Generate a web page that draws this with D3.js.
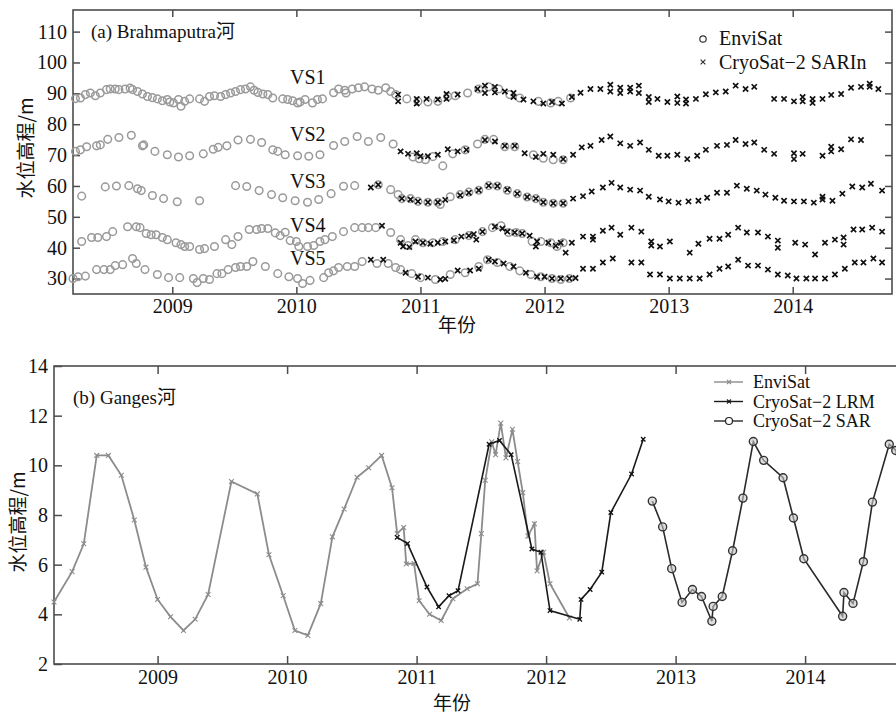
<!DOCTYPE html>
<html><head><meta charset="utf-8">
<script src="https://cdn.jsdelivr.net/npm/d3@7"></script>
<style>
body{margin:0;background:#fff;}
svg{display:block;}
text{font-family:"Liberation Serif","Times New Roman","Noto Sans CJK SC",serif;fill:#111;}
.cjk{font-family:"Noto Sans CJK SC",sans-serif;}
</style></head>
<body><svg id="c" width="896" height="714"></svg>
<script>
// ---------- DATA ----------
const years = [2009, 2010, 2011, 2012, 2013, 2014];
const ticksA = [30, 40, 50, 60, 70, 80, 90, 100, 110];
const ticksB = [2, 4, 6, 8, 10, 12, 14];
const stationNames = ["VS1", "VS2", "VS3", "VS4", "VS5"];
const legendA = ["EnviSat", "CryoSat\u22122 SARIn"];
const legendB = ["EnviSat", "CryoSat\u22122 LRM", "CryoSat\u22122 SAR"];

const vs1Envi = [[2008.22,88.3],[2008.26,88.5],[2008.3,89.6],[2008.34,90.1],[2008.38,89.2],[2008.42,90.1],[2008.47,91.2],[2008.5,91.4],[2008.54,91.4],[2008.57,91.2],[2008.62,91.4],[2008.66,91.7],[2008.68,91.2],[2008.72,90.6],[2008.76,89.8],[2008.8,89.0],[2008.84,88.6],[2008.88,88.2],[2008.92,87.6],[2008.96,88.0],[2008.98,87.2],[2009.01,86.9],[2009.05,88.0],[2009.07,85.8],[2009.1,87.4],[2009.14,88.2],[2009.22,88.2],[2009.26,87.4],[2009.3,89.0],[2009.34,89.2],[2009.39,89.0],[2009.43,89.6],[2009.47,90.1],[2009.51,90.6],[2009.55,91.2],[2009.59,91.4],[2009.63,92.1],[2009.66,91.0],[2009.69,90.3],[2009.73,89.8],[2009.77,89.6],[2009.81,88.5],[2009.89,88.2],[2009.93,88.0],[2009.97,87.6],[2010.01,86.9],[2010.03,87.2],[2010.07,88.0],[2010.13,86.9],[2010.17,88.0],[2010.21,88.2],[2010.3,90.2],[2010.34,91.4],[2010.39,91.0],[2010.4,90.1],[2010.45,91.4],[2010.5,91.8],[2010.55,92.1],[2010.61,91.4],[2010.66,91.0],[2010.72,91.8],[2010.76,90.6],[2010.8,89.6],[2010.89,88.2],[2010.98,87.4],[2011.06,87.2],[2011.14,87.4],[2011.22,89.0],[2011.28,89.2],[2011.38,90.1],[2011.47,91.4],[2011.55,92.1],[2011.63,91.4],[2011.72,89.6],[2011.8,88.5],[2011.95,87.4],[2012.05,86.9],[2012.11,87.4],[2012.21,88.5]];
const vs1Cryo = [[2010.82,89.6],[2010.82,87.4],[2010.97,88.2],[2010.97,86.7],[2011.05,88.2],[2011.14,88.0],[2011.21,88.2],[2011.21,89.8],[2011.3,89.6],[2011.46,91.4],[2011.52,92.5],[2011.52,90.1],[2011.6,92.1],[2011.6,90.3],[2011.68,90.6],[2011.75,90.1],[2011.75,88.8],[2011.83,88.0],[2011.91,87.4],[2011.99,86.7],[2012.06,87.2],[2012.14,86.7],[2012.22,88.8],[2012.29,90.2],[2012.37,91.4],[2012.45,91.4],[2012.53,92.8],[2012.53,90.6],[2012.61,91.8],[2012.61,90.1],[2012.69,91.8],[2012.69,90.6],[2012.76,92.5],[2012.76,90.1],[2012.84,88.8],[2012.84,87.2],[2012.91,88.2],[2012.99,87.2],[2013.07,89.0],[2013.07,86.9],[2013.14,88.0],[2013.14,86.7],[2013.22,88.2],[2013.3,89.7],[2013.38,90.3],[2013.46,90.6],[2013.54,92.5],[2013.62,91.4],[2013.69,92.1],[2013.85,88.2],[2013.93,88.2],[2014.01,87.4],[2014.08,88.8],[2014.08,87.4],[2014.16,88.2],[2014.16,86.9],[2014.24,88.2],[2014.31,89.5],[2014.39,89.8],[2014.47,91.8],[2014.55,92.1],[2014.62,93.1],[2014.62,92.1],[2014.69,91.4]];

const vs2Envi = [[2008.22,71.2],[2008.26,71.7],[2008.31,72.7],[2008.39,73.0],[2008.42,73.3],[2008.48,75.1],[2008.57,75.7],[2008.67,76.4],[2008.76,73.0],[2008.77,73.3],[2008.86,71.2],[2008.96,70.1],[2009.05,69.4],[2009.14,69.8],[2009.25,70.4],[2009.33,71.9],[2009.37,72.5],[2009.44,73.0],[2009.53,74.9],[2009.63,75.1],[2009.72,74.1],[2009.81,71.7],[2009.85,71.2],[2009.91,70.1],[2010.01,69.8],[2010.1,69.6],[2010.19,70.1],[2010.3,73.1],[2010.39,74.4],[2010.49,76.0],[2010.58,74.4],[2010.68,75.7],[2010.78,73.6],[2010.94,69.4],[2010.99,68.8],[2011.04,68.5],[2011.1,69.5],[2011.18,66.5],[2011.26,70.4],[2011.36,71.7],[2011.46,73.6],[2011.52,75.1],[2011.59,75.1],[2011.68,72.7],[2011.76,72.7],[2011.91,70.1],[2011.99,69.0],[2012.07,68.5],[2012.15,68.5]];
const vs2Cryo = [[2010.84,71.2],[2010.9,70.4],[2010.97,70.6],[2011.0,69.6],[2011.06,69.6],[2011.14,70.1],[2011.22,71.9],[2011.3,71.2],[2011.37,71.7],[2011.52,74.9],[2011.6,74.4],[2011.68,73.0],[2011.76,73.0],[2011.84,70.6],[2011.93,69.4],[2011.99,70.4],[2012.07,70.1],[2012.15,68.7],[2012.23,70.1],[2012.3,72.5],[2012.37,73.0],[2012.46,74.9],[2012.53,76.0],[2012.61,73.8],[2012.69,73.0],[2012.77,74.1],[2012.84,71.7],[2012.92,69.8],[2012.99,69.8],[2013.07,70.1],[2013.15,68.7],[2013.23,69.8],[2013.3,71.7],[2013.39,73.0],[2013.47,73.3],[2013.54,74.9],[2013.62,73.6],[2013.69,74.1],[2013.77,71.7],[2013.85,70.4],[2014.01,70.6],[2014.01,68.7],[2014.08,70.4],[2014.24,69.8],[2014.31,71.2],[2014.31,72.7],[2014.39,71.9],[2014.47,75.1],[2014.55,74.9]];

const vs3Envi = [[2008.27,56.7],[2008.46,59.7],[2008.55,60.0],[2008.65,60.1],[2008.72,59.1],[2008.75,58.5],[2008.84,56.9],[2008.93,55.9],[2009.04,54.9],[2009.22,55.2],[2009.51,60.1],[2009.6,59.8],[2009.7,58.5],[2009.8,57.2],[2009.89,56.2],[2009.99,55.2],[2010.09,54.7],[2010.18,55.6],[2010.28,57.5],[2010.38,59.9],[2010.47,60.1],[2010.66,60.4],[2010.76,58.8],[2010.82,57.2],[2010.85,55.9],[2010.92,55.9],[2010.98,55.0],[2011.06,54.7],[2011.14,54.7],[2011.16,54.0],[2011.24,56.5],[2011.32,57.2],[2011.39,58.0],[2011.47,58.6],[2011.55,60.1],[2011.62,60.0],[2011.7,58.6],[2011.78,57.5],[2011.86,56.4],[2011.93,55.9],[2011.99,54.7],[2012.07,54.4],[2012.15,54.4]];
const vs3Cryo = [[2010.6,59.5],[2010.66,60.4],[2010.85,55.9],[2010.92,55.6],[2010.98,55.0],[2011.06,54.7],[2011.14,54.7],[2011.2,55.5],[2011.32,57.0],[2011.39,57.8],[2011.47,58.6],[2011.55,60.1],[2011.62,60.0],[2011.7,58.8],[2011.78,57.5],[2011.86,56.4],[2011.93,55.9],[2011.99,54.7],[2012.07,54.4],[2012.15,54.4],[2012.23,55.9],[2012.31,56.7],[2012.38,58.2],[2012.47,59.5],[2012.54,61.0],[2012.61,59.5],[2012.69,58.8],[2012.77,58.5],[2012.84,56.5],[2012.93,55.6],[2013.0,55.0],[2013.08,54.6],[2013.16,55.0],[2013.24,55.2],[2013.31,56.2],[2013.39,57.8],[2013.47,57.8],[2013.55,60.1],[2013.63,59.1],[2013.71,58.5],[2013.78,57.2],[2013.86,56.2],[2013.93,55.2],[2014.01,55.0],[2014.09,55.0],[2014.17,54.6],[2014.24,56.5],[2014.24,55.6],[2014.32,55.2],[2014.4,57.5],[2014.48,59.8],[2014.56,59.5],[2014.63,60.7],[2014.72,58.5]];

const vs4Envi = [[2008.27,42.0],[2008.35,43.3],[2008.4,43.3],[2008.47,43.6],[2008.52,45.2],[2008.64,46.8],[2008.71,46.8],[2008.74,46.5],[2008.79,44.6],[2008.83,44.2],[2008.87,44.2],[2008.92,43.3],[2008.96,42.6],[2009.03,41.6],[2009.07,41.0],[2009.1,40.4],[2009.14,40.4],[2009.22,39.4],[2009.26,39.7],[2009.34,40.4],[2009.43,42.6],[2009.48,41.0],[2009.53,43.6],[2009.62,45.9],[2009.68,45.9],[2009.72,46.2],[2009.77,46.2],[2009.83,44.8],[2009.87,43.9],[2009.91,45.0],[2009.95,42.3],[2010.0,42.0],[2010.02,40.4],[2010.09,40.4],[2010.14,40.7],[2010.19,42.0],[2010.23,42.6],[2010.29,43.6],[2010.38,45.2],[2010.47,46.5],[2010.53,46.5],[2010.58,46.5],[2010.64,46.5],[2010.76,44.9],[2010.84,42.6],[2010.9,40.7],[2010.96,42.6],[2011.02,41.6],[2011.1,41.6],[2011.18,42.0],[2011.28,42.6],[2011.39,43.9],[2011.5,45.2],[2011.58,46.5],[2011.65,47.1],[2011.71,44.9],[2011.77,44.9],[2011.82,44.6],[2011.9,42.0],[2011.97,42.0],[2012.05,41.6],[2012.1,40.4],[2012.15,41.6]];
const vs4Cryo = [[2010.69,47.1],[2010.84,41.6],[2010.86,40.4],[2010.91,40.2],[2010.96,42.0],[2011.02,41.6],[2011.08,41.3],[2011.14,41.6],[2011.2,42.0],[2011.27,42.4],[2011.33,43.6],[2011.39,43.9],[2011.43,44.4],[2011.45,42.6],[2011.5,45.2],[2011.6,46.8],[2011.66,46.2],[2011.7,45.2],[2011.76,44.9],[2011.82,44.6],[2011.88,43.9],[2011.93,40.4],[2011.94,42.0],[2012.03,41.6],[2012.09,40.6],[2012.13,41.6],[2012.17,38.4],[2012.22,41.6],[2012.31,43.6],[2012.39,42.6],[2012.39,43.6],[2012.47,45.5],[2012.54,46.5],[2012.61,44.2],[2012.7,46.5],[2012.78,45.2],[2012.86,42.0],[2012.86,40.7],[2012.93,40.4],[2013.01,42.0],[2013.17,38.4],[2013.24,41.3],[2013.33,42.9],[2013.41,42.9],[2013.48,44.2],[2013.56,46.5],[2013.63,44.9],[2013.72,44.9],[2013.8,43.6],[2013.88,42.3],[2013.88,40.0],[2014.02,41.6],[2014.1,41.0],[2014.18,37.8],[2014.26,41.6],[2014.34,42.6],[2014.41,43.3],[2014.41,41.0],[2014.49,45.9],[2014.56,45.9],[2014.64,46.5],[2014.72,45.2]];

const vs5Envi = [[2008.2,30.0],[2008.24,30.6],[2008.3,30.8],[2008.39,32.9],[2008.45,32.9],[2008.5,32.9],[2008.54,34.2],[2008.6,34.5],[2008.68,36.5],[2008.71,34.9],[2008.78,32.9],[2008.88,31.3],[2008.97,30.3],[2009.06,30.3],[2009.17,30.0],[2009.2,28.7],[2009.25,30.0],[2009.3,29.7],[2009.36,31.6],[2009.4,31.6],[2009.45,32.9],[2009.51,33.6],[2009.55,33.9],[2009.6,33.9],[2009.65,35.5],[2009.75,33.9],[2009.85,31.6],[2009.94,30.6],[2010.01,30.0],[2010.05,28.4],[2010.11,29.4],[2010.22,30.3],[2010.26,31.9],[2010.3,32.5],[2010.34,33.6],[2010.41,33.9],[2010.47,33.9],[2010.53,35.5],[2010.65,34.9],[2010.74,34.9],[2010.8,33.6],[2010.84,32.9],[2010.93,31.6],[2011.0,30.3],[2011.12,29.7],[2011.24,31.3],[2011.36,31.9],[2011.47,33.9],[2011.54,36.1],[2011.62,35.2],[2011.72,33.9],[2011.8,32.5],[2011.89,31.3],[2011.97,30.6],[2012.06,30.0],[2012.13,29.7],[2012.2,30.0]];
const vs5Cryo = [[2010.6,36.1],[2010.7,36.1],[2010.88,31.9],[2010.98,30.6],[2011.06,30.3],[2011.16,29.7],[2011.2,29.9],[2011.3,32.6],[2011.4,32.6],[2011.47,33.2],[2011.55,36.1],[2011.6,35.5],[2011.67,34.9],[2011.75,33.9],[2011.85,31.9],[2011.94,30.6],[2012.0,30.6],[2012.06,30.0],[2012.13,30.0],[2012.2,30.0],[2012.25,30.2],[2012.31,33.2],[2012.39,33.2],[2012.47,35.2],[2012.55,36.5],[2012.7,35.2],[2012.78,35.2],[2012.85,31.3],[2012.93,31.3],[2013.01,30.0],[2013.09,30.0],[2013.17,30.0],[2013.25,30.0],[2013.33,31.3],[2013.41,33.2],[2013.48,33.9],[2013.56,36.1],[2013.64,34.2],[2013.72,34.2],[2013.8,32.9],[2013.88,31.3],[2013.96,31.0],[2014.03,30.0],[2014.11,30.0],[2014.18,30.0],[2014.26,30.0],[2014.34,31.3],[2014.42,33.2],[2014.5,35.2],[2014.57,35.2],[2014.65,36.5],[2014.72,35.2]];

const stationLabelPos = [[2010.5, 93], [2010.5, 74.5], [2010.5, 59.5], [2010.5, 45], [2010.5, 34.5]];

const gangesEnvi = [[2008.2,4.5],[2008.34,5.72],[2008.43,6.84],[2008.53,10.4],[2008.62,10.4],[2008.72,9.6],[2008.82,7.8],[2008.91,5.9],[2009.0,4.6],[2009.1,3.9],[2009.2,3.35],[2009.29,3.8],[2009.39,4.8],[2009.57,9.35],[2009.77,8.85],[2009.86,6.4],[2009.97,4.75],[2010.06,3.35],[2010.16,3.15],[2010.26,4.43],[2010.35,7.12],[2010.44,8.24],[2010.54,9.52],[2010.63,9.9],[2010.73,10.4],[2010.81,9.1],[2010.85,7.25],[2010.9,7.5],[2010.92,6.03],[2010.98,6.05],[2011.02,4.55],[2011.1,4.0],[2011.19,3.75],[2011.28,4.63],[2011.39,5.03],[2011.47,5.23],[2011.5,7.25],[2011.53,9.4],[2011.58,10.95],[2011.61,10.43],[2011.65,11.7],[2011.69,10.3],[2011.74,11.45],[2011.78,10.15],[2011.82,8.9],[2011.86,7.15],[2011.91,7.65],[2011.93,5.75],[2011.98,6.5],[2012.03,5.23],[2012.18,3.85]];
const gangesLRM = [[2010.85,7.1],[2010.93,6.85],[2011.08,5.1],[2011.17,4.3],[2011.25,4.75],[2011.32,4.95],[2011.56,10.85],[2011.64,11.0],[2011.73,10.43],[2011.89,6.63],[2011.96,6.5],[2012.03,4.15],[2012.26,3.8],[2012.27,4.6],[2012.34,5.0],[2012.43,5.7],[2012.5,8.1],[2012.66,9.65],[2012.75,11.05]];
const gangesSAR = [[2012.82,8.56],[2012.9,7.52],[2012.97,5.84],[2013.05,4.48],[2013.13,5.0],[2013.2,4.72],[2013.28,3.72],[2013.29,4.32],[2013.36,4.72],[2013.44,6.56],[2013.52,8.68],[2013.6,10.96],[2013.68,10.2],[2013.83,9.5],[2013.91,7.88],[2013.99,6.24],[2014.29,3.92],[2014.3,4.88],[2014.37,4.44],[2014.45,6.12],[2014.52,8.52],[2014.65,10.85],[2014.7,10.6],[2014.78,8.9]];

// ---------- DRAW ----------
const svg = d3.select("#c");
svg.append("rect").attr("width",896).attr("height",714).attr("fill","#fff");
const frameColor = "#4d4d4d";
const serif = "'Liberation Serif','Times New Roman',serif";
const crossPath = s => `M${-s},${-s}L${s},${s}M${-s},${s}L${s},${-s}`;

// ===== Panel A =====
const xA = d3.scaleLinear().domain([2008.2, 2014.8]).range([73, 892]);
const yA = d3.scaleLinear().domain([25, 117]).range([294, 10]);
const gA = svg.append("g");

function styleAxis(g){
  g.attr("font-family", serif);
  g.select(".domain").remove();
  g.selectAll(".tick line").attr("stroke", frameColor).attr("stroke-width", 1.5);
  g.selectAll(".tick text").attr("font-size", 20).attr("fill","#111").style("font-family", serif);
}
gA.append("g").attr("transform","translate(0,294)")
  .call(d3.axisBottom(xA).tickValues(years).tickFormat(d3.format("d")).tickSizeInner(-7).tickSizeOuter(0).tickPadding(5))
  .call(styleAxis);
gA.append("g").attr("transform","translate(0,10)")
  .call(d3.axisTop(xA).tickValues(years).tickFormat("").tickSizeInner(-7).tickSizeOuter(0))
  .call(styleAxis);
gA.append("g").attr("transform","translate(73,0)")
  .call(d3.axisLeft(yA).tickValues(ticksA).tickSizeInner(-7).tickSizeOuter(0).tickPadding(6))
  .call(styleAxis);
gA.append("g").attr("transform","translate(892,0)")
  .call(d3.axisRight(yA).tickValues(ticksA).tickFormat("").tickSizeInner(-7).tickSizeOuter(0))
  .call(styleAxis);
gA.append("rect").attr("x",73).attr("y",10).attr("width",892-73).attr("height",284)
  .attr("fill","none").attr("stroke",frameColor).attr("stroke-width",1.6);

const enviSets = [vs1Envi, vs2Envi, vs3Envi, vs4Envi, vs5Envi];
const cryoSets = [vs1Cryo, vs2Cryo, vs3Cryo, vs4Cryo, vs5Cryo];
enviSets.forEach(set => {
  gA.append("g").selectAll("circle").data(set).join("circle")
    .attr("cx", d => xA(d[0])).attr("cy", d => yA(d[1])).attr("r", 3.8)
    .attr("fill","none").attr("stroke","#9a9a9a").attr("stroke-width",1.5);
});
cryoSets.forEach(set => {
  gA.append("g").selectAll("path").data(set).join("path")
    .attr("transform", d => `translate(${xA(d[0])},${yA(d[1])})`)
    .attr("d", crossPath(2.6)).attr("stroke","#111").attr("stroke-width",1.7).attr("fill","none");
});
stationNames.forEach((n,i) => {
  gA.append("text").attr("x", 290).attr("y", yA(stationLabelPos[i][1])).attr("font-size", 20).text(n);
});
gA.append("text").attr("x", 91).attr("y", 38).attr("font-size", 19).text("(a) Brahmaputra\u6cb3");
// legend A
gA.append("circle").attr("cx",703).attr("cy",39).attr("r",3.2).attr("fill","none").attr("stroke","#333").attr("stroke-width",1.2);
gA.append("path").attr("transform","translate(703,62)").attr("d",crossPath(2.4)).attr("stroke","#333").attr("stroke-width",1.2);
legendA.forEach((t,i) => gA.append("text").attr("x",719).attr("y",45 + i*23.5).attr("font-size",20).text(t));
gA.append("text").attr("class","cjk").attr("x",457).attr("y",332).attr("text-anchor","middle").attr("font-size",19).text("\u5e74\u4efd");
gA.append("text").attr("class","cjk").attr("transform","translate(33,148) rotate(-90)").attr("text-anchor","middle").attr("font-size",19).text("\u6c34\u4f4d\u9ad8\u7a0b/m");

// ===== Panel B =====
const xB = d3.scaleLinear().domain([2008.2, 2014.8]).range([54, 908.7]);
const yB = d3.scaleLinear().domain([2, 14]).range([664, 366]);
const gB = svg.append("g");
gB.append("g").attr("transform","translate(0,664)")
  .call(d3.axisBottom(xB).tickValues(years).tickFormat(d3.format("d")).tickSizeInner(-8).tickSizeOuter(0).tickPadding(6))
  .call(styleAxis);
gB.append("g").attr("transform","translate(0,366)")
  .call(d3.axisTop(xB).tickValues(years).tickFormat("").tickSizeInner(-8).tickSizeOuter(0))
  .call(styleAxis);
gB.append("g").attr("transform","translate(54,0)")
  .call(d3.axisLeft(yB).tickValues(ticksB).tickSizeInner(-8).tickSizeOuter(0).tickPadding(6))
  .call(styleAxis);
gB.append("rect").attr("x",54).attr("y",366).attr("width",908.7-54).attr("height",298)
  .attr("fill","none").attr("stroke",frameColor).attr("stroke-width",1.6);

const line = d3.line().x(d => xB(d[0])).y(d => yB(d[1]));
gB.append("path").datum(gangesEnvi).attr("d",line).attr("fill","none").attr("stroke","#8c8c8c").attr("stroke-width",1.8);
gB.append("g").selectAll("path").data(gangesEnvi).join("path")
  .attr("transform", d => `translate(${xB(d[0])},${yB(d[1])})`)
  .attr("d", crossPath(2.4)).attr("stroke","#8c8c8c").attr("stroke-width",1.1);
gB.append("path").datum(gangesLRM).attr("d",line).attr("fill","none").attr("stroke","#1a1a1a").attr("stroke-width",1.6);
gB.append("g").selectAll("path").data(gangesLRM).join("path")
  .attr("transform", d => `translate(${xB(d[0])},${yB(d[1])})`)
  .attr("d", crossPath(2.2)).attr("stroke","#111").attr("stroke-width",1.3);
gB.append("path").datum(gangesSAR).attr("d",line).attr("fill","none").attr("stroke","#2a2a2a").attr("stroke-width",1.6);
gB.append("g").selectAll("circle").data(gangesSAR).join("circle")
  .attr("cx", d => xB(d[0])).attr("cy", d => yB(d[1])).attr("r", 4)
  .attr("fill","#c8c8c8").attr("fill-opacity",0.6).attr("stroke","#333").attr("stroke-width",1.4);

gB.append("text").attr("x", 73).attr("y", 404).attr("font-size", 19).text("(b) Ganges\u6cb3");
// legend B
const legCols = ["#8c8c8c","#1a1a1a","#2a2a2a"];
legendB.forEach((t,i) => {
  const yy = 382 + i*19.5;
  gB.append("line").attr("x1",714).attr("x2",743).attr("y1",yy).attr("y2",yy).attr("stroke",legCols[i]).attr("stroke-width",1.4);
  if (i < 2) gB.append("path").attr("transform",`translate(729,${yy})`).attr("d",crossPath(2)).attr("stroke",legCols[i]).attr("stroke-width",1.1);
  else gB.append("circle").attr("cx",729).attr("cy",yy).attr("r",3.5).attr("fill","#fff").attr("stroke","#222").attr("stroke-width",1.2);
  gB.append("text").attr("x",753).attr("y",yy+6).attr("font-size",18).text(t);
});
gB.append("text").attr("class","cjk").attr("x",452).attr("y",710).attr("text-anchor","middle").attr("font-size",19).text("\u5e74\u4efd");
gB.append("text").attr("class","cjk").attr("transform","translate(25,522) rotate(-90)").attr("text-anchor","middle").attr("font-size",19).text("\u6c34\u4f4d\u9ad8\u7a0b/m");
</script></body></html>
